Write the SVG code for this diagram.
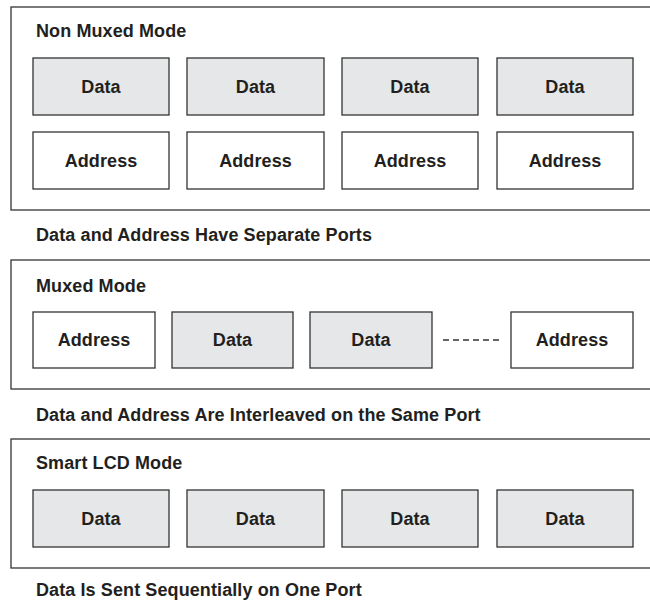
<svg xmlns="http://www.w3.org/2000/svg" width="650" height="600" viewBox="0 0 650 600">
<style>
text{font-family:"Liberation Sans",Arial,sans-serif;font-weight:bold;font-size:18px;letter-spacing:0.1px;fill:#231f20}
.c{text-anchor:middle}
.panel{fill:#fff;stroke:#333;stroke-width:1.3}
.d{fill:#e6e7e8;stroke:#333;stroke-width:1.3}
.a{fill:#fff;stroke:#333;stroke-width:1.3}
</style>
<rect width="650" height="600" fill="#fff"/>
<g id="panel-nonmuxed">
<rect class="panel" x="11" y="7" width="660" height="203"/>
<text x="36" y="37">Non Muxed Mode</text>
</g>
<g id="nm-d1"><rect class="d" x="33" y="58" width="136" height="57"/><text class="c" x="101" y="93">Data</text></g>
<g id="nm-d2"><rect class="d" x="187" y="58" width="137" height="57"/><text class="c" x="255.5" y="93">Data</text></g>
<g id="nm-d3"><rect class="d" x="342" y="58" width="136" height="57"/><text class="c" x="410" y="93">Data</text></g>
<g id="nm-d4"><rect class="d" x="497" y="58" width="136" height="57"/><text class="c" x="565" y="93">Data</text></g>
<g id="nm-a1"><rect class="a" x="33" y="132" width="136" height="57"/><text class="c" x="101" y="167">Address</text></g>
<g id="nm-a2"><rect class="a" x="187" y="132" width="137" height="57"/><text class="c" x="255.5" y="167">Address</text></g>
<g id="nm-a3"><rect class="a" x="342" y="132" width="136" height="57"/><text class="c" x="410" y="167">Address</text></g>
<g id="nm-a4"><rect class="a" x="497" y="132" width="136" height="57"/><text class="c" x="565" y="167">Address</text></g>
<text x="36" y="241">Data and Address Have Separate Ports</text>

<g id="panel-muxed">
<rect class="panel" x="11" y="260" width="660" height="129"/>
<text x="36" y="292">Muxed Mode</text>
</g>
<g id="mx-a1"><rect class="a" x="33" y="312" width="122" height="56"/><text class="c" x="94" y="346">Address</text></g>
<g id="mx-d1"><rect class="d" x="172" y="312" width="121" height="56"/><text class="c" x="232.5" y="346">Data</text></g>
<g id="mx-d2"><rect class="d" x="310" y="312" width="122" height="56"/><text class="c" x="371" y="346">Data</text></g>
<g id="mx-a2"><rect class="a" x="511" y="312" width="122" height="56"/><text class="c" x="572" y="346">Address</text></g>
<g id="connectors">
<line x1="443" y1="340" x2="502" y2="340" stroke="#333" stroke-width="1.3" stroke-dasharray="6,4"/>
</g>
<text x="36" y="421">Data and Address Are Interleaved on the Same Port</text>

<g id="panel-smartlcd">
<rect class="panel" x="11" y="439" width="660" height="129"/>
<text x="36" y="469">Smart LCD Mode</text>
</g>
<g id="sl-d1"><rect class="d" x="33" y="490" width="136" height="57"/><text class="c" x="101" y="525">Data</text></g>
<g id="sl-d2"><rect class="d" x="187" y="490" width="137" height="57"/><text class="c" x="255.5" y="525">Data</text></g>
<g id="sl-d3"><rect class="d" x="342" y="490" width="136" height="57"/><text class="c" x="410" y="525">Data</text></g>
<g id="sl-d4"><rect class="d" x="497" y="490" width="136" height="57"/><text class="c" x="565" y="525">Data</text></g>
<text x="36" y="596">Data Is Sent Sequentially on One Port</text>
</svg>
